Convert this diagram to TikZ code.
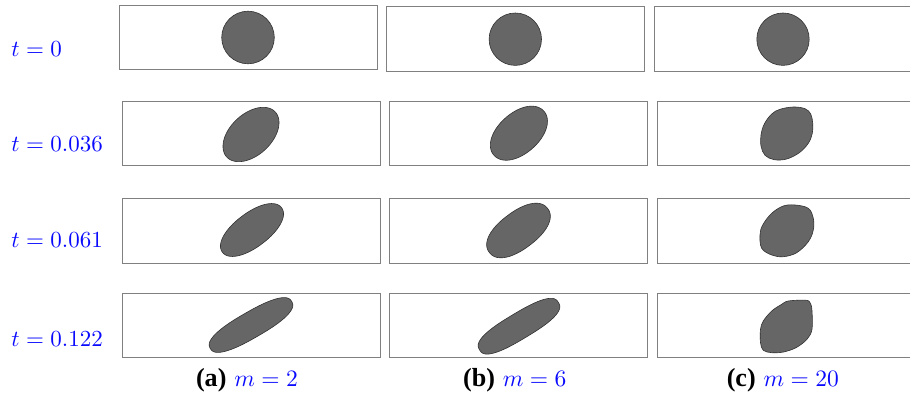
\documentclass[tikz,border=0pt]{standalone}
\usepackage{fontspec}
\newfontfamily\capfont{Liberation Serif}
\definecolor{boxgray}{RGB}{128,128,128}
\definecolor{blobfill}{RGB}{102,102,102}
\definecolor{blobline}{RGB}{50,50,50}
\definecolor{lblblue}{RGB}{10,10,255}
\tikzset{
  framebox/.style={draw=boxgray, line width=1pt},
  blob/.style={fill=blobfill, draw=blobline, line width=0.6pt},
  lbl/.style={inner sep=0pt, anchor=base west, text=lblblue, font=\fontsize{10}{12}\selectfont, scale=2.3},
  capt/.style={inner sep=0pt, anchor=base, font=\fontsize{10}{12}\selectfont, scale=2.35}
}
\newcommand{\capbold}[1]{{\capfont\fontsize{11.1}{13}\selectfont\bfseries #1}}
% superellipse blob: centre x, centre y, angle, half-length, half-width, exponent
\newcommand{\sblob}[6]{%
  \filldraw[blob, shift={(#1,#2)}, rotate=#3]
    plot[domain=2.5:357.5, samples=72, smooth cycle, variable=\t]
    ({#4*sign(cos(\t))*pow(abs(cos(\t)),#6)}, {#5*sign(sin(\t))*pow(abs(sin(\t)),#6)});}
\begin{document}
\begin{tikzpicture}[x=1pt,y=-1pt]
\useasboundingbox (0,0) rectangle (910,395);
\clip (0,0) rectangle (910,395);
% frames
\draw[framebox] (119,5.3) rectangle (377,70);
\draw[framebox] (386.8,6.2) rectangle (644.5,71.8);
\draw[framebox] (654,6.2) rectangle (912,71.8);
\draw[framebox] (122,102) rectangle (380,165.7);
\draw[framebox] (389.5,102) rectangle (647.6,165.7);
\draw[framebox] (657.7,102) rectangle (916,165.7);
\draw[framebox] (122,198.8) rectangle (380,263.2);
\draw[framebox] (389.5,198.8) rectangle (647.6,263.2);
\draw[framebox] (657.7,198.8) rectangle (916,263.2);
\draw[framebox] (122,293.2) rectangle (380,357.7);
\draw[framebox] (389.5,293.2) rectangle (647.6,357.7);
\draw[framebox] (657.7,293.2) rectangle (916,357.7);
% row 1 circles
\filldraw[blob] (248,37.5) circle (26.3);
\filldraw[blob] (515.3,39.2) circle (26.2);
\filldraw[blob] (783,39.2) circle (26.2);
% row 2
\sblob{251}{134.5}{43}{33.1}{20.7}{1}
\sblob{518.9}{133.2}{41.5}{33.3}{20.3}{0.97}
\filldraw[blob] plot[smooth cycle, tension=0.6] coordinates {(780,109.3) (793.3,107) (805,108.7) (810.7,114) (812.7,123.3) (812.3,133.3) (808.3,143.3) (799.3,152.7) (786.7,159) (774.3,159.7) (765,155.3) (761,146) (761,135) (764.3,124) (771.7,114)};
% row 3
\sblob{252}{230}{37}{37}{17}{0.95}
\sblob{518.5}{230.5}{37}{36.5}{18.5}{0.9}
\filldraw[blob] plot[smooth cycle, tension=0.6] coordinates {(795,205) (808.3,208.3) (813.3,218.3) (813.3,230) (808.3,241.7) (796.7,252.7) (783.3,256.7) (771.7,255) (761.7,248.3) (760,235) (762.7,225) (771.7,213.3) (783.3,206)};
% row 4
\sblob{251}{325}{30}{47}{13}{0.8}
\sblob{519}{326.2}{31}{46}{13}{0.75}
\filldraw[blob] plot[smooth cycle, tension=0.55] coordinates {(788.3,301) (806,300.2) (810.5,303.5) (812,311) (812,329.3) (807,339.3) (796,347.7) (783.5,352) (771.7,352.7) (763.3,350.3) (760.5,342.7) (760.5,329.3) (763.3,321) (771.7,311) (781.7,304.3)};
% row labels
\node[lbl] (t0) at (11,56.6) {$t=0$};
\node[lbl] (t1) at (11,151.7) {$t=0.036$};
\node[lbl] (t2) at (11,247.7) {$t=0.061$};
\node[lbl] (t3) at (11,346.7) {$t=0.122$};
% captions
\node[capt] (ca) at (247,386) {\capbold{(a)} \textcolor{lblblue}{$m=2$}};
\node[capt] (cb) at (514.8,386) {\capbold{(b)} \textcolor{lblblue}{$m=6$}};
\node[capt] (cc) at (782.9,386) {\capbold{(c)} \textcolor{lblblue}{$m=20$}};
\end{tikzpicture}
\end{document}
